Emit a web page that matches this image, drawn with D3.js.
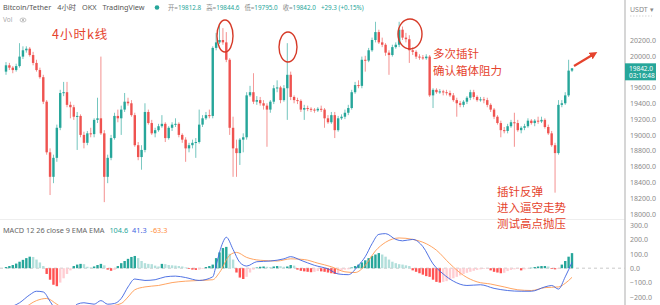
<!DOCTYPE html>
<html>
<head>
<meta charset="utf-8">
<script src="https://cdn.jsdelivr.net/npm/d3@7"></script>
<style>
  body { margin: 0; background: #fff; }
  svg { display: block; font-family: "Noto Sans", "Noto Sans CJK SC", sans-serif; }
</style>
</head>
<body>
<div id="chart"></div>
<script>
var width = 660, height = 305;

// 4h candles, [open, high, low, close]
var candles = [
  [19800,19920,19760,19880],[19880,19910,19820,19850],[19850,19870,19780,19820],[19820,19900,19800,19870],
  [19870,20160,19850,19990],[19990,20120,19960,20070],[20070,20120,20040,20090],[20090,20110,19990,20010],
  [20010,20050,19880,19910],[19910,19950,19800,19820],[19820,19850,19710,19730],[19730,19760,19390,19420],
  [19420,19440,18750,18780],[18780,18830,18240,18470],[18470,18750,18390,18710],[18710,19130,18660,19090],
  [19090,19570,19060,19530],[19530,19670,19490,19540],[19540,19670,19350,19380],[19380,19420,19210,19350],
  [19350,19380,19190,19230],[19230,19290,18810,19240],[19240,19260,18970,19000],[19000,19040,18830,18900],
  [18900,19050,18870,19020],[19020,19090,18970,19010],[19010,19210,18970,19190],[19190,19470,19150,19210],
  [19210,19990,19000,19020],[19020,19060,18150,18470],[18470,18750,18390,18710],[18710,19000,18680,18960],
  [18960,19280,18940,19240],[19240,19320,19160,19210],[19210,19370,19000,19320],[19320,19530,19290,19420],
  [19420,19470,19370,19400],[19400,19440,19230,19250],[19250,19280,18850,18870],[18870,18910,18680,18720],
  [18720,18870,18560,18810],[18810,19400,18780,19290],[19290,19320,19130,19150],[19150,19190,19000,19020],
  [19020,19090,18970,19060],[19060,19140,19040,19110],[19110,19250,19090,19140],[19140,19160,18910,18960],
  [18960,19110,18940,19090],[19090,19160,19050,19130],[19130,19210,19100,19140],[19140,19160,18970,19000],
  [19000,19020,18900,18940],[18940,18970,18660,18830],[18830,18900,18780,18870],[18870,18940,18830,18900],
  [18900,18960,18710,18910],[18910,19320,18890,19130],[19130,19250,19100,19210],[19210,19290,19190,19250],
  [19250,19320,19210,19240],[19240,20120,19210,20100],[20100,20290,20070,20170],[20170,20390,20150,20200],
  [20200,20350,20140,20170],[20170,20300,19920,19950],[19950,19970,19000,19090],[19090,19230,18470,18830],
  [18830,18940,18470,18770],[18770,18960,18620,18940],[18940,19020,18780,18970],[18970,19540,18940,19500],
  [19500,19620,19480,19540],[19540,19780,19390,19420],[19420,19490,19380,19440],[19440,19480,19370,19400],
  [19400,19440,19320,19370],[19370,19400,18850,19320],[19320,19440,19280,19420],[19420,19630,19390,19590],
  [19590,19690,19540,19600],[19600,19620,19400,19440],[19440,19630,19420,19590],[19590,20160,19190,19760],
  [19760,19800,19440,19480],[19480,19500,19400,19440],[19440,19470,19390,19430],[19430,19450,19290,19320],
  [19320,19380,19190,19340],[19340,19370,19300,19330],[19330,19350,19290,19320],[19320,19340,19280,19310],
  [19310,19350,19290,19330],[19330,19370,19290,19320],[19320,19340,19090,19210],[19210,19250,19140,19160],
  [19160,19290,19140,19250],[19250,19290,18960,19060],[19060,19240,19040,19210],[19210,19260,19190,19230],
  [19230,19320,19200,19280],[19280,19380,19250,19340],[19340,19570,19320,19540],[19540,19670,19520,19630],
  [19630,19690,19590,19620],[19620,19990,19590,19950],[19950,20000,19800,19940],[19940,20100,19920,20070],
  [20070,20230,20050,20200],[20200,20430,20170,20300],[20300,20330,20150,20170],[20170,20230,20110,20140],
  [20140,20160,20000,20040],[20040,20070,19760,20010],[20010,20140,19990,20110],[20110,20170,20090,20140],
  [20140,20430,20110,20330],[20330,20370,20200,20230],[20230,20290,20170,20210],[20210,20260,19910,20070],
  [20070,20110,20010,20050],[20050,20070,19960,19990],[19990,20020,19950,19980],[19980,20010,19950,19970],
  [19970,20020,19950,19990],[19990,20010,19480,19500],[19500,19590,19340,19570],[19570,19590,19520,19540],
  [19540,19580,19520,19550],[19550,19570,19500,19540],[19540,19570,19500,19530],[19530,19560,19480,19500],
  [19500,19530,19420,19440],[19440,19470,19230,19400],[19400,19430,19350,19380],[19380,19440,19350,19420],
  [19420,19490,19390,19470],[19470,19570,19440,19540],[19540,19570,19450,19480],[19480,19500,19420,19440],
  [19440,19480,19420,19450],[19450,19480,19400,19440],[19440,19470,19350,19380],[19380,19400,19290,19320],
  [19320,19340,19200,19230],[19230,19250,19130,19150],[19150,19180,18970,19060],[19060,19100,19020,19050],
  [19050,19140,19020,19110],[19110,19190,19090,19160],[19160,19280,18850,19150],[19150,19190,19040,19060],
  [19060,19110,19020,19090],[19090,19140,19060,19110],[19110,19210,19090,19180],[19180,19200,19130,19150],
  [19150,19200,19110,19180],[19180,19230,19140,19170],[19170,19230,19150,19190],[19190,19210,19080,19100],
  [19100,19130,19000,19020],[19020,19050,18850,18870],[18870,18900,18270,18770],[18770,19440,18750,19380],
  [19380,19440,19350,19400],[19400,19540,19380,19500],[19500,19950,19480,19812.8],[19812.8,19844.6,19795.0,19842.0]
];

// MACD histogram, one per candle
var histValues = [
  8,15,22,32,45,58,70,80,78,60,40,15,-40,-80,-115,-125,-100,-70,-40,-15,
  15,25,30,28,10,5,12,22,30,20,-10,-18,-12,15,35,50,65,78,85,70,
  50,35,30,28,18,12,30,28,22,20,18,15,12,5,-5,-10,-12,-10,-5,8,
  15,25,70,110,140,148,100,60,-30,-65,-75,-60,-30,-10,5,10,12,10,8,12,
  15,14,10,12,22,18,-10,-18,-22,-25,-28,-25,-20,-22,-25,-30,-35,-40,-38,-15,
  -10,-8,5,15,25,40,55,70,85,95,105,95,80,60,45,35,28,25,20,15,
  -15,-25,-35,-45,-55,-60,-80,-95,-100,-95,-90,-80,-70,-60,-50,-40,-32,-25,-18,-12,
  -8,-5,-3,-15,-25,-30,-35,-32,-20,-12,-8,-5,-15,-8,-3,3,8,12,15,15,
  12,-5,-8,-5,25,50,80,104.6
];

// MACD and signal lines read at [candle index, value]
var macdLine = [[0,-280],[4,-240],[7,-185],[9,-160],[11,-165],[13,-230],[15,-300],[18,-330],[21,-250],
  [23,-240],[26,-250],[28,-225],[30,-250],[32,-245],[34,-210],[36,-130],[38,-75],[41,-85],[44,-80],
  [47,-60],[50,-55],[53,-65],[57,-85],[61,-60],[62,20],[63,110],[64,180],[65,215],[67,130],[69,40],
  [71,15],[74,45],[78,50],[82,65],[84,80],[87,55],[91,20],[95,-5],[98,-40],[101,-45],[104,20],[106,80],
  [108,170],[110,235],[112,240],[115,200],[117,190],[120,200],[123,150],[126,30],[129,-40],[132,-90],
  [136,-120],[140,-115],[144,-140],[148,-155],[152,-160],[155,-160],[159,-130],[161,-120],[163,-145],
  [165,-60],[167,41.3]];
var signalLine = [[0,-320],[5,-280],[9,-225],[12,-210],[15,-250],[18,-290],[22,-290],[26,-280],[30,-265],
  [34,-245],[36,-200],[38,-150],[41,-130],[45,-120],[49,-100],[53,-90],[57,-85],[61,-80],[63,-30],[66,90],
  [68,110],[71,75],[75,55],[80,50],[84,65],[88,60],[92,35],[96,10],[100,-25],[103,-30],[106,20],[109,120],
  [112,180],[116,210],[120,200],[124,170],[127,125],[131,30],[135,-50],[139,-95],[143,-110],[147,-130],
  [151,-150],[155,-155],[159,-135],[163,-130],[165,-105],[167,-63.3]];

var priceTicks = [20200, 20000, 19600, 19400, 19200, 19000, 18800, 18600, 18400, 18200, 18000];
var macdTicks = [300, 200, 100, 0, -100, -200];
var lastPrice = 19842.0;
var header = ["Bitcoin/Tether", "4小时", "OKX", "TradingView"];
var ohlcText = [["开=", "19812.8"], ["高=", "19844.6"], ["低=", "19795.0"], ["收=", "19842.0"]];
var macdLegend = ["104.6", "41.3", "-63.3"];

var up = "#26a69a", down = "#ef5350", red = "#e5432d";
var n = candles.length;

var svg = d3.select("#chart").append("svg")
  .attr("width", width)
  .attr("height", height);

var x = d3.scaleLinear().domain([0, n - 1]).range([6, 572]);
var yP = d3.scaleLinear().domain([18000, 20200]).range([214, 40]);
var yM = d3.scaleLinear().domain([-200, 300]).range([297, 225]);
var bw = 2.4;

// panel separator + zero line
svg.append("line").attr("x1", 0).attr("x2", 625).attr("y1", 219.5).attr("y2", 219.5)
  .attr("stroke", "#eeeeee");
svg.append("line").attr("x1", 0).attr("x2", 625).attr("y1", yM(0)).attr("y2", yM(0))
  .attr("stroke", "#bbbbbb").attr("stroke-dasharray", "3,3").attr("stroke-width", 0.8);

// candles
var cg = svg.append("g").selectAll("g").data(candles).enter().append("g");
cg.append("line")
  .attr("x1", function (d, i) { return x(i); })
  .attr("x2", function (d, i) { return x(i); })
  .attr("y1", function (d) { return yP(d[1]); })
  .attr("y2", function (d) { return yP(d[2]); })
  .attr("stroke", function (d) { return d[3] >= d[0] ? up : down; })
  .attr("stroke-width", 0.8)
  .attr("opacity", 0.8);
cg.append("rect")
  .attr("x", function (d, i) { return x(i) - bw / 2; })
  .attr("y", function (d) { return yP(Math.max(d[0], d[3])); })
  .attr("width", bw)
  .attr("height", function (d) { return Math.max(1, Math.abs(yP(d[0]) - yP(d[3]))); })
  .attr("fill", function (d) { return d[3] >= d[0] ? up : down; });

// MACD histogram
svg.append("g").selectAll("rect").data(histValues).enter().append("rect")
  .attr("x", function (d, i) { return x(i) - bw / 2; })
  .attr("y", function (d) { return yM(Math.max(0, d)); })
  .attr("width", bw)
  .attr("height", function (d) { return Math.abs(yM(d) - yM(0)); })
  .attr("fill", function (d, i) {
    var prev = i > 0 ? histValues[i - 1] : d;
    if (d >= 0) return d >= prev ? "#26a69a" : "#b2dfdb";
    return d <= prev ? "#ff5252" : "#ffcdd2";
  });

svg.append("clipPath").attr("id", "mclip").append("rect")
  .attr("x", 0).attr("y", 221).attr("width", 625).attr("height", 84);

var line = d3.line()
  .x(function (d) { return x(d[0]); })
  .y(function (d) { return yM(d[1]); })
  .curve(d3.curveMonotoneX);

svg.append("path").datum(signalLine).attr("d", line)
  .attr("clip-path", "url(#mclip)")
  .attr("fill", "none").attr("stroke", "#ff9a50").attr("stroke-width", 0.9);
svg.append("path").datum(macdLine).attr("d", line)
  .attr("clip-path", "url(#mclip)")
  .attr("fill", "none").attr("stroke", "#3d63e0").attr("stroke-width", 0.9);

// right axis
svg.append("line").attr("x1", 625).attr("x2", 625).attr("y1", 0).attr("y2", height)
  .attr("stroke", "#c8c8c8").attr("stroke-width", 1.5);

var pAxis = svg.append("g").attr("transform", "translate(625,0)")
  .call(d3.axisRight(yP).tickValues(priceTicks).tickSize(0).tickPadding(5).tickFormat(d3.format(".1f")));
var mAxis = svg.append("g").attr("transform", "translate(625,0)")
  .call(d3.axisRight(yM).tickValues(macdTicks).tickSize(0).tickPadding(5).tickFormat(d3.format(".1f")));
[pAxis, mAxis].forEach(function (a) {
  a.select(".domain").remove();
  a.selectAll("text").attr("fill", "#8a8a8a").style("font-size", "7px")
    .style("font-family", "Noto Sans, sans-serif");
});

svg.append("text").attr("x", 630).attr("y", 12).attr("fill", "#8a8a8a")
  .style("font-size", "7px").text("USDT ▾");
svg.append("line").attr("x1", 630).attr("x2", 652).attr("y1", 16).attr("y2", 16)
  .attr("stroke", "#bbbbbb").attr("stroke-dasharray", "1.5,1.5").attr("stroke-width", 0.6);

svg.append("rect").attr("x", 625).attr("y", yP(lastPrice) - 5).attr("width", 31).attr("height", 17)
  .attr("fill", up);
svg.append("text").attr("x", 629).attr("y", yP(lastPrice) + 2.5).attr("fill", "#fff")
  .style("font-size", "6.5px").text(d3.format(".1f")(lastPrice));
svg.append("text").attr("x", 629).attr("y", yP(lastPrice) + 10).attr("fill", "#fff")
  .style("font-size", "6.5px").text("03:16:48");

// header legend
var h = svg.append("text").attr("x", 3).attr("y", 10).attr("fill", "#555")
  .style("font-size", "7.3px");
header.forEach(function (t, i) {
  h.append("tspan").attr("dx", i ? 6 : 0).text(t);
});
svg.append("circle").attr("cx", 157).attr("cy", 7.5).attr("r", 2.3).attr("fill", up);
var o = svg.append("text").attr("x", 168).attr("y", 10).style("font-size", "6.3px");
ohlcText.forEach(function (p, i) {
  o.append("tspan").attr("dx", i ? 5 : 0).attr("fill", "#888").text(p[0]);
  o.append("tspan").attr("fill", up).text(p[1]);
});
o.append("tspan").attr("dx", 5).attr("fill", up).text("+29.3 (+0.15%)");

svg.append("text").attr("x", 3).attr("y", 22).attr("fill", "#aaa")
  .style("font-size", "6.5px").text("Vol");
svg.append("ellipse").attr("cx", 23).attr("cy", 20).attr("rx", 3).attr("ry", 2)
  .attr("fill", "none").attr("stroke", "#aaa").attr("stroke-width", 0.7);
svg.append("circle").attr("cx", 23).attr("cy", 20).attr("r", 1).attr("fill", "#aaa");

// MACD legend
var ml = svg.append("text").attr("x", 3).attr("y", 233).attr("fill", "#666")
  .style("font-size", "7.3px");
ml.append("tspan").text("MACD 12 26 close 9 EMA EMA");
ml.append("tspan").attr("dx", 5).attr("fill", up).text(macdLegend[0]);
ml.append("tspan").attr("dx", 4).attr("fill", "#3d63e0").text(macdLegend[1]);
ml.append("tspan").attr("dx", 4).attr("fill", "#ff8c3a").text(macdLegend[2]);

// annotations
var note = svg.append("g").attr("fill", red)
  .style("font-family", "Noto Sans CJK SC, sans-serif").style("font-size", "11.5px");
note.append("text").attr("x", 52).attr("y", 39).style("font-size", "12.5px")
  .style("letter-spacing", "1px").text("4小时k线");
note.append("text").attr("x", 433).attr("y", 58).text("多次插针");
note.append("text").attr("x", 433).attr("y", 75).text("确认箱体阻力");
note.append("text").attr("x", 497).attr("y", 196).text("插针反弹");
note.append("text").attr("x", 497).attr("y", 212).text("进入逼空走势");
note.append("text").attr("x", 497).attr("y", 228).text("测试高点抛压");

[[225, 36, 8, 16], [288, 47, 9, 15], [410, 34, 12, 15]].forEach(function (c) {
  svg.append("ellipse").attr("cx", c[0]).attr("cy", c[1]).attr("rx", c[2]).attr("ry", c[3])
    .attr("fill", "none").attr("stroke", "#d63a28").attr("stroke-width", 1.4);
});

svg.append("defs").append("marker").attr("id", "ah")
  .attr("viewBox", "0 0 10 10").attr("refX", 5).attr("refY", 5)
  .attr("markerWidth", 3.5).attr("markerHeight", 3.5).attr("orient", "auto")
  .append("path").attr("d", "M0,0L10,5L0,10z").attr("fill", red);
svg.append("line").attr("x1", 574).attr("y1", 66).attr("x2", 594).attr("y2", 54)
  .attr("stroke", red).attr("stroke-width", 2.2).attr("marker-end", "url(#ah)");
</script>
</body>
</html>
